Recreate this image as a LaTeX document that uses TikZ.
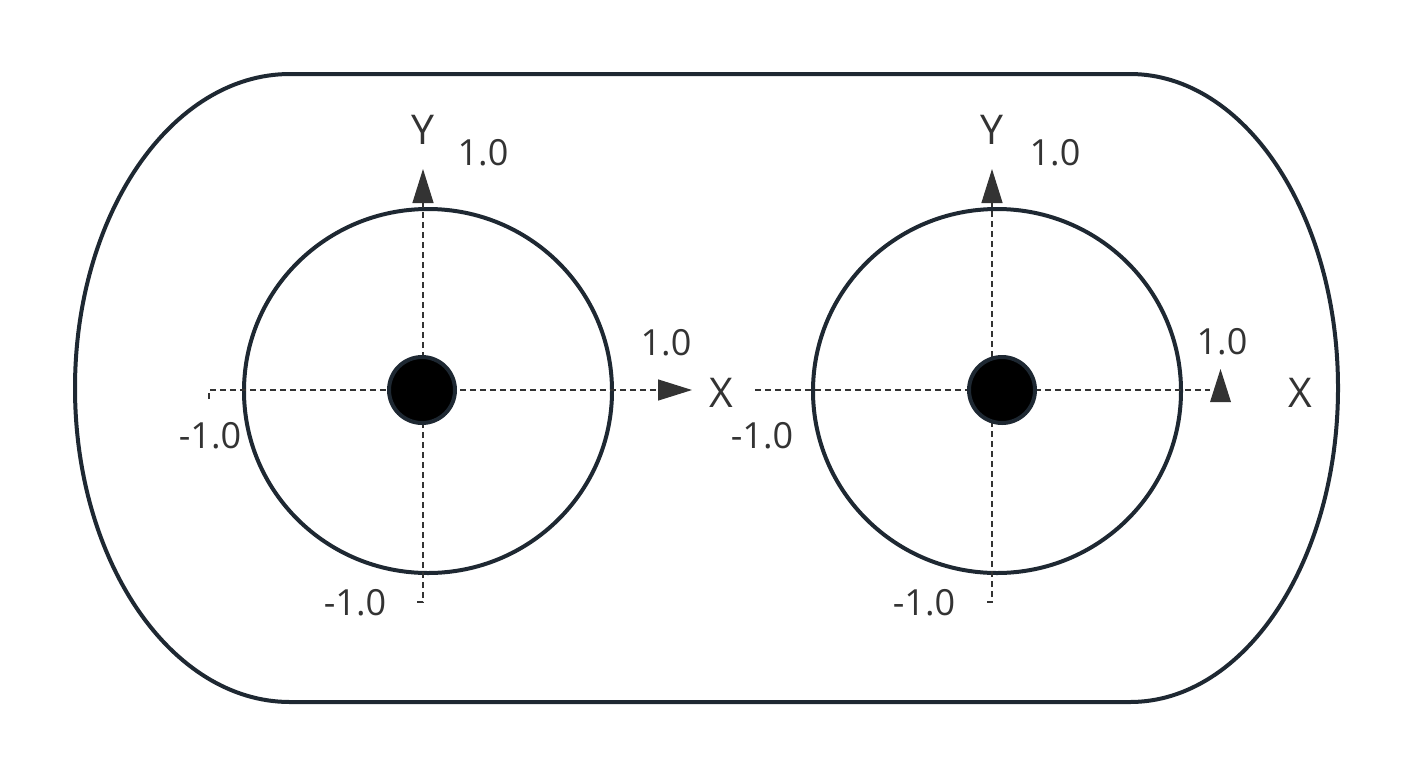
\documentclass[tikz,border=0pt]{standalone}
\usepackage{fontspec}
\setmainfont{Open Sans}
\usetikzlibrary{arrows.meta}
\definecolor{outline}{HTML}{1E2832}
\definecolor{ink}{HTML}{333333}
\begin{document}
\begin{tikzpicture}[x=1pt, y=-1pt, every node/.style={inner sep=0pt, text=ink}]
    \tikzstyle{frame} = [draw=outline, line width=4pt]
    \tikzstyle{axis} = [draw=ink, line width=1.3pt, dash pattern=on 6pt off 4pt, -{Triangle[length=34pt, width=21pt]}]
    \tikzstyle{hub} = [circle, draw=outline, line width=4pt, fill=black, minimum size=66pt]
    \tikzstyle{numlabel} = [font=\fontsize{36}{40}\selectfont]
    \tikzstyle{axislabel} = [font=\fontsize{41}{46}\selectfont]
    \useasboundingbox (0,0) rectangle (1412,777);

    % outer housing
    \draw [frame] (290,74) -- (1130,74) arc [start angle=-90, end angle=90, x radius=208, y radius=314]
        -- (290,702) arc [start angle=90, end angle=270, x radius=215, y radius=314] -- cycle;

    % left unit
    \coordinate (cL) at (428,391);
    \draw [frame] (cL) ellipse [x radius=184, y radius=182];
    \coordinate (xL0) at (209,399);
    \coordinate (xL1) at (692,390);
    \coordinate (yL0) at (417,602);
    \coordinate (yL1) at (423,169);
    \draw [axis] (xL0) -- (209,390) -- (xL1);
    \draw [axis] (yL0) -- (423,602) -- (yL1);
    \node [hub] (hubL) at (422,390) {};
    \node [axislabel] (yNameL) at (423,130) {Y};
    \node [numlabel] (yTopL) at (483,153) {1.0};
    \node [numlabel] (xTopL) at (666,343) {1.0};
    \node [axislabel] (xNameL) at (721,393) {X};
    \node [numlabel] (xLowL) at (210,436) {-1.0};
    \node [numlabel] (yLowL) at (355,603) {-1.0};

    % right unit
    \coordinate (cR) at (997,391);
    \draw [frame] (cR) ellipse [x radius=184, y radius=182];
    \coordinate (xR0) at (755,390);
    \coordinate (xR1) at (1210,390);
    \coordinate (yR0) at (987,602);
    \coordinate (yR1) at (992,169);
    \draw [axis, -] (xR0) -- (xR1);
    \fill [ink] (1210,402) -- (1231,402) -- (1220.5,369) -- cycle;
    \draw [axis] (yR0) -- (992,602) -- (yR1);
    \node [hub] (hubR) at (1002,390) {};
    \node [axislabel] (yNameR) at (992,130) {Y};
    \node [numlabel] (yTopR) at (1055,153) {1.0};
    \node [numlabel] (xTopR) at (1222,342) {1.0};
    \node [axislabel] (xNameR) at (1300,393) {X};
    \node [numlabel] (xLowR) at (762,436) {-1.0};
    \node [numlabel] (yLowR) at (924,603) {-1.0};
\end{tikzpicture}
\end{document}
